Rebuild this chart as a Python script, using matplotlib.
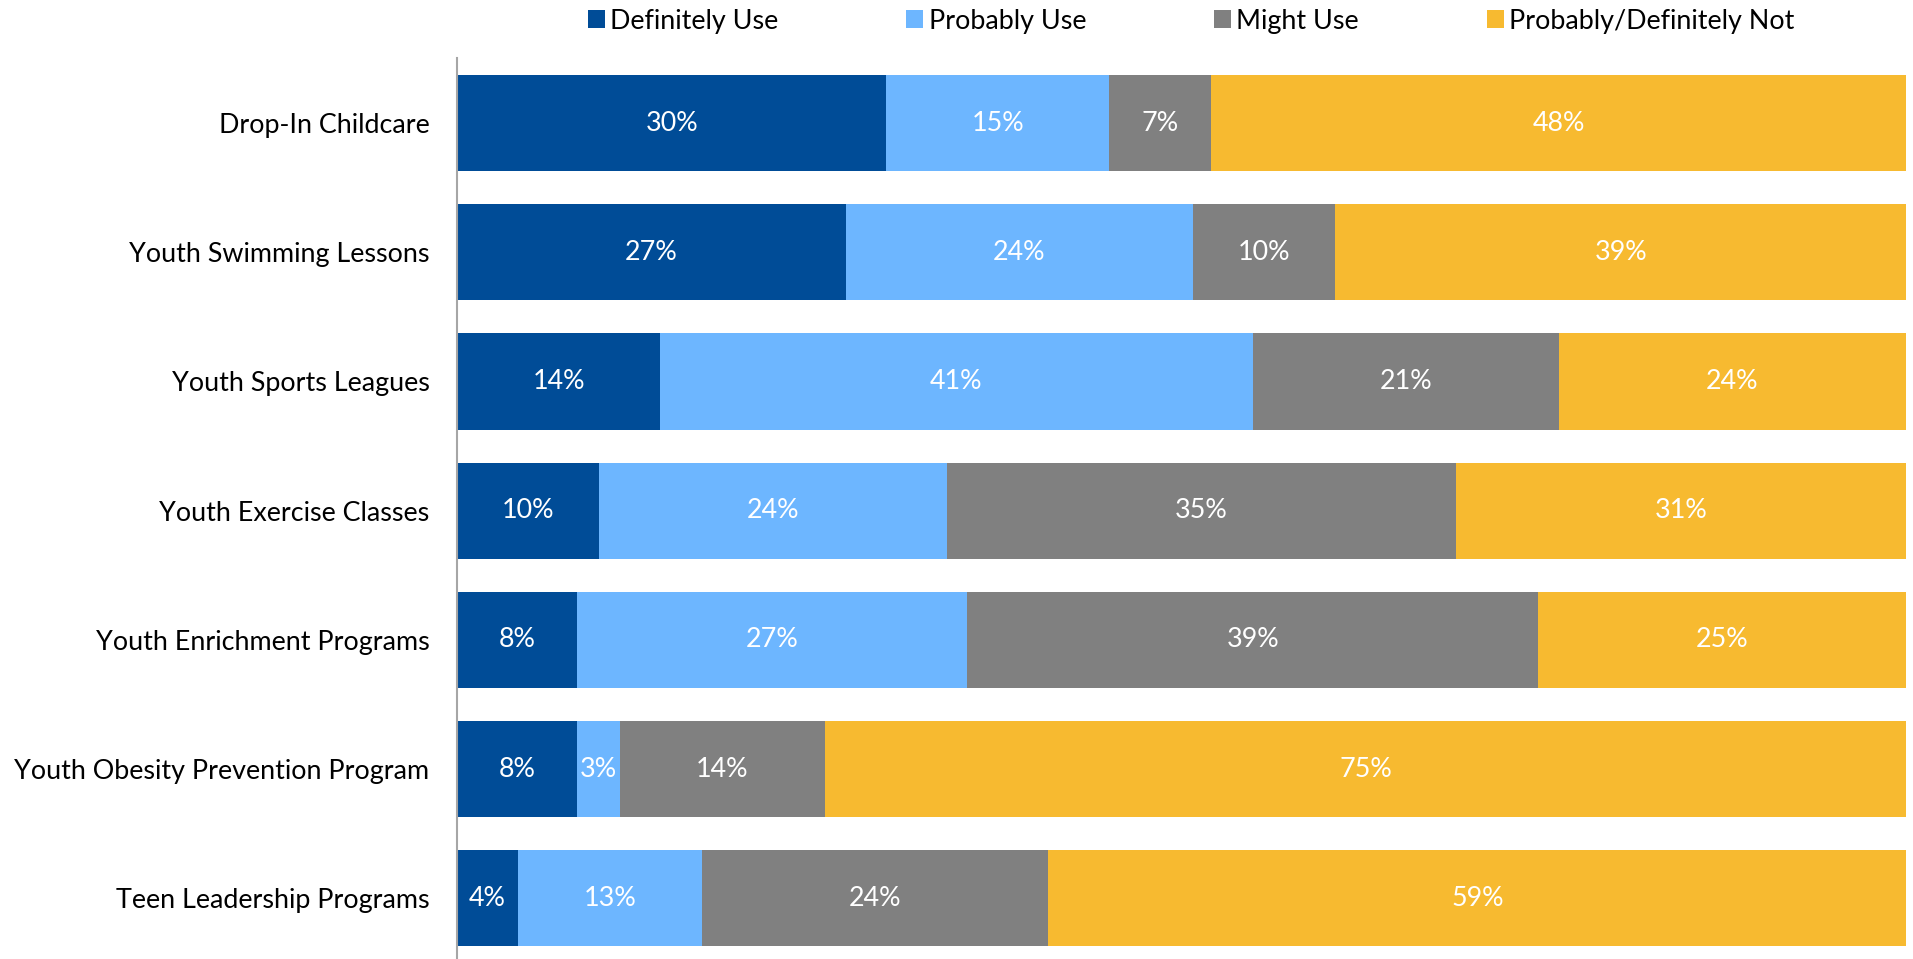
import matplotlib
matplotlib.use("Agg")
import matplotlib.pyplot as plt
from matplotlib.patches import Patch
import numpy as np

categories = ["Drop-In Childcare", "Youth Swimming Lessons", "Youth Sports Leagues",
              "Youth Exercise Classes", "Youth Enrichment Programs",
              "Youth Obesity Prevention Program", "Teen Leadership Programs"]
series_names = ["Definitely Use", "Probably Use", "Might Use", "Probably/Definitely Not"]
definitely_use = [29.6, 26.8, 14.0, 9.8, 8.3, 8.3, 4.2]
probably_use = [15.4, 24.0, 40.9, 24.0, 26.9, 2.9, 12.7]
might_use = [7.0, 9.8, 21.1, 35.1, 39.4, 14.2, 23.9]
definitely_not = [48.0, 39.4, 24.0, 31.1, 25.4, 74.6, 59.2]
colors = ["#004C97", "#6DB6FF", "#808080", "#F7BA30"]

plt.rcParams['font.family'] = ['Lato', 'DejaVu Sans']
FS = 19.4

fig = plt.figure(figsize=(19.13, 9.59), dpi=100)
ax = fig.add_axes([0.239, -0.004, 0.7575, 0.943])

y = np.arange(len(categories))
left = np.zeros(len(categories))
for name, vals, c in zip(series_names, [definitely_use, probably_use, might_use, definitely_not], colors):
    vals = np.array(vals)
    bars = ax.barh(y, vals, left=left, height=0.745, color=c, label=name, edgecolor='none')
    for b, v in zip(bars, vals):
        ax.text(b.get_x() + b.get_width() / 2, b.get_y() + b.get_height() / 2,
                f"{v:.0f}%", ha='center', va='center', color='white', fontsize=FS)
    left += vals

ax.set_xlim(0, 100)
ax.set_ylim(len(categories) - 0.5, -0.5)
ax.set_yticks(y)
ax.set_yticklabels(categories, fontsize=FS)
ax.tick_params(axis='y', length=0, pad=20)
ax.set_xticks([])
for s in ['top', 'right', 'bottom']:
    ax.spines[s].set_visible(False)
ax.spines['left'].set_color('#A6A6A6')
ax.spines['left'].set_linewidth(1.5)

handles = [Patch(facecolor=c, edgecolor='none') for c in colors]
fig.legend(handles, series_names, loc='center', bbox_to_anchor=(0.6227, 0.978), ncol=4,
           frameon=False, fontsize=FS, handlelength=0.63, handleheight=0.63,
           handletextpad=0.2, columnspacing=4.75)

fig.savefig("out.png", dpi=100)
